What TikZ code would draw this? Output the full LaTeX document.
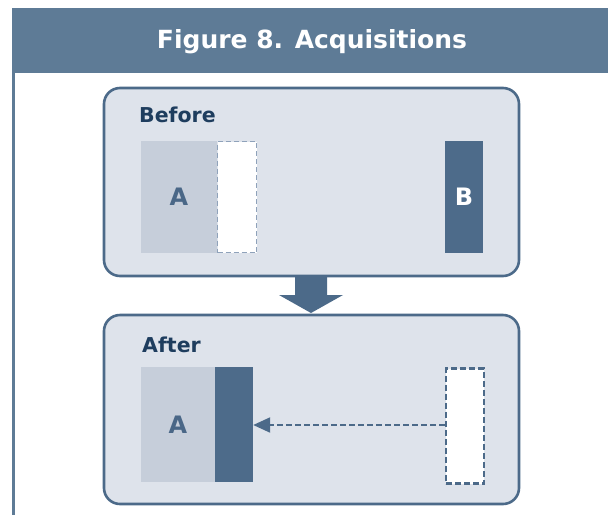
\documentclass[tikz,border=0pt]{standalone}
\usepackage{fontspec}
\setmainfont{DejaVu Sans}
\newfontfamily\titlefont{DejaVu Sans}
\newfontfamily\labfont{DejaVu Sans}
\usetikzlibrary{arrows.meta}
\definecolor{barblue}{HTML}{5E7B96}
\definecolor{edgeblue}{HTML}{4C6A89}
\definecolor{panelfill}{HTML}{DEE3EB}
\definecolor{afill}{HTML}{C6CEDA}
\definecolor{darkfill}{HTML}{4D6B8A}
\definecolor{navy}{HTML}{1E3D5E}
\definecolor{lightdash}{HTML}{8FA2BA}
\definecolor{alabel}{HTML}{4A6787}
\begin{document}
\begin{tikzpicture}[x=1pt,y=-1pt,
  panel/.style={draw=edgeblue, line width=2.6pt, fill=panelfill, rounded corners=16pt},
  heading/.style={anchor=base west, font=\labfont\bfseries\fontsize{20.5}{22}\selectfont, text=navy, inner sep=0pt},
  abox/.style={fill=afill, inner sep=0pt, font=\labfont\bfseries\fontsize{24}{26}\selectfont, text=alabel},
  darkbox/.style={fill=darkfill, inner sep=0pt, font=\labfont\bfseries\fontsize{24}{26}\selectfont, text=white},
  slot/.style={fill=white, draw=lightdash, line width=1.8pt, dash pattern=on 5pt off 3pt, inner sep=0pt},
  slotdark/.style={fill=white, draw=edgeblue, line width=2.2pt, dash pattern=on 6pt off 3pt, inner sep=0pt},
  flow/.style={draw=edgeblue, line width=2.2pt, dash pattern=on 6pt off 3pt, -{Triangle[length=17pt,width=15pt]}}
]
\useasboundingbox (0,0) rectangle (608,515);
\fill[white] (0,0) rectangle (608,515);
% title bar
\fill[barblue] (12,8) rectangle (608,73);
\fill[barblue] (12,73) rectangle (15,515);
\node[text=white, font=\titlefont\bfseries\fontsize{25}{27}\selectfont, inner sep=0pt] (title) at (312,42) {Figure 8. Acquisitions};
% panels
\draw[panel] (104,88) rectangle (519,276);
\draw[panel] (104,315) rectangle (519,504);
\node[heading] (before) at (139,122) {Before};
\node[heading] (after) at (142,352) {After};
% before contents
\node[abox, minimum width=76pt, minimum height=112pt] (A1) at (179,197) {A};
\node[slot, minimum width=39pt, minimum height=111pt] (S1) at (237,197) {};
\node[darkbox, minimum width=38pt, minimum height=112pt] (B) at (464,197) {B};
% down arrow
\fill[edgeblue] (297,277) -- (327,277) -- (327,295) -- (343,295) -- (311,313) -- (279,295) -- (295,295) -- (295,277) -- cycle;
% after contents
\node[abox, minimum width=75pt, minimum height=115pt] (A2) at (178,424.5) {A};
\node[darkbox, minimum width=38pt, minimum height=115pt] (D2) at (234,424.5) {};
\node[slotdark, minimum width=38pt, minimum height=115pt] (S2) at (465,426) {};
\draw[flow] (S2.west |- 0,425) -- (D2.east |- 0,425);
\end{tikzpicture}
\end{document}
